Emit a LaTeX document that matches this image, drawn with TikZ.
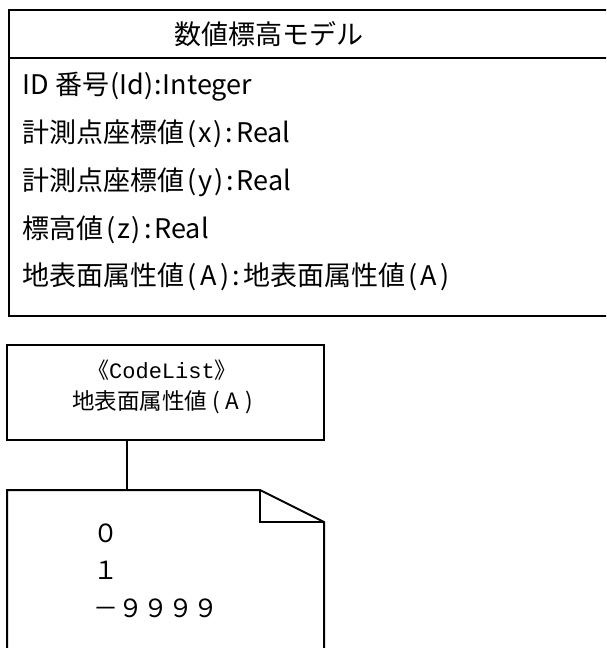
\documentclass[tikz,border=0pt]{standalone}
\usepackage{fontspec}
\setmainfont{Noto Sans CJK JP}
\newfontfamily\latinmono{Liberation Mono}
\newcommand{\myopen}{\kern3pt(\kern1.5pt}
\newcommand{\myclose}{\kern1.5pt)\kern1pt}
\newcommand{\mycolon}{\kern2pt:\kern3pt}
\newcommand{\wideA}{\kern2pt A\kern2pt}
\begin{document}
\begin{tikzpicture}[x=1pt,y=-1pt,line width=2pt,
  attr/.style={anchor=west,inner sep=0pt,font=\fontsize{27}{27}\selectfont},
  ttl/.style={inner sep=0pt,font=\fontsize{27}{27}\selectfont},
  small/.style={inner sep=0pt,font=\fontsize{22.5}{22.5}\selectfont},
  val/.style={anchor=west,inner sep=0pt,font=\fontsize{25}{25}\selectfont}]
\useasboundingbox (0,0) rectangle (606,648);
\clip (0,0) rectangle (606,648);
% class box (extends past the right edge)
\draw (9,10) rectangle (640,316);
\draw (9,58) -- (640,58);
\node[ttl] (title) at (269,34) {数値標高モデル};
\node[attr] (a1) at (22,87) {ID 番号\kern1pt(Id)\kern1pt:\kern1pt Integer};
\node[attr] (a2) at (22,134) {計測点座標値\myopen x\myclose\mycolon Real};
\node[attr] (a3) at (22,182) {計測点座標値\myopen y\myclose\mycolon Real};
\node[attr] (a4) at (22,230) {標高値\myopen z\myclose\mycolon Real};
\node[attr] (a5) at (22,277) {地表面属性値\myopen\wideA\myclose\mycolon 地表面属性値\myopen\wideA\myclose};
% code list box
\node[draw,minimum width=317pt,minimum height=95pt,inner sep=0pt] (cl) at (165.5,392.5) {};
\node[small,font=\fontsize{22}{22}\selectfont] (st) at (162,370) {《{\latinmono CodeList}》};
\node[small] (cn) at (164,402) {地表面属性値\kern5pt(\kern6pt A\kern6pt)\kern3pt};
% note
\coordinate (ntop) at (127,490);
\draw (7,490) -- (260,490) -- (324,522) -- (324,700) -- (7,700) -- cycle;
\draw (260,490) -- (260,522) -- (324,522);
\node[val] (v1) at (92,533) {０};
\node[val] (v2) at (92,570) {１};
\node[val] (v3) at (92,608) {－９９９９};
% connector
\draw (cl.south -| ntop) -- (ntop);
\end{tikzpicture}
\end{document}
